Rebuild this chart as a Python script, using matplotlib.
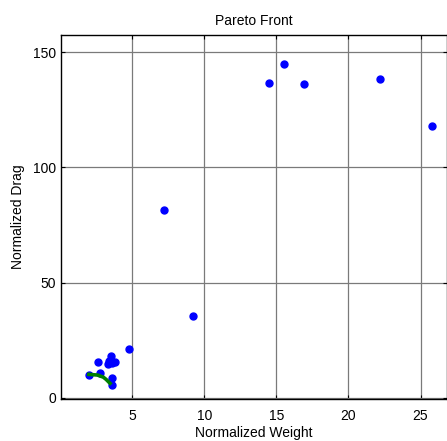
import numpy as np
import matplotlib
matplotlib.use('Agg')
from matplotlib import pyplot as plt

plt.rcParams['font.family'] = ['Liberation Sans', 'DejaVu Sans']

# all candidate designs
weight = [14.5, 15.5, 16.9, 22.2, 25.8, 7.2, 9.2, 4.8,
          2.66, 3.52, 3.40, 3.82, 3.59, 3.3, 2.01, 2.78, 3.59, 3.59]
drag = [136.8, 145.0, 136.4, 138.5, 118.2, 81.4, 35.5, 21.2,
        15.4, 18.3, 16.1, 15.4, 15.0, 14.8, 9.8, 10.7, 8.5, 5.6]

# pareto front
front_w = [2.0, 2.6, 3.0, 3.2, 3.47]
front_d = [10.2, 9.9, 9.0, 8.0, 6.3]

fig = plt.figure(figsize=(4.47, 4.41), dpi=100)
ax = fig.add_axes([0.1365, 0.0952, 0.8624, 0.8254])

ax.plot(weight, drag, 'o', color='#0000ff', markersize=5, zorder=3)
ax.plot(front_w, front_d, '-', color='#008000', linewidth=2.6, zorder=4)

ax.set_xlim(0.07, 26.8)
ax.set_ylim(-0.5, 157.5)
ax.set_xticks([5, 10, 15, 20, 25])
ax.set_yticks([0, 50, 100, 150])
ax.grid(True, color='#7a7a7a', linewidth=0.9)
ax.set_axisbelow(True)
ax.tick_params(direction='in', top=True, right=True, labelsize=10, length=3)
ax.tick_params(axis='x', pad=7)
for s in ax.spines.values():
    s.set_linewidth(1.0)

ax.set_xlabel('Normalized Weight', fontsize=10, labelpad=2)
ax.set_ylabel('Normalized Drag', fontsize=10, labelpad=6)
ax.set_title('Pareto Front', fontsize=10, pad=7)

fig.savefig('out.png', dpi=100)
